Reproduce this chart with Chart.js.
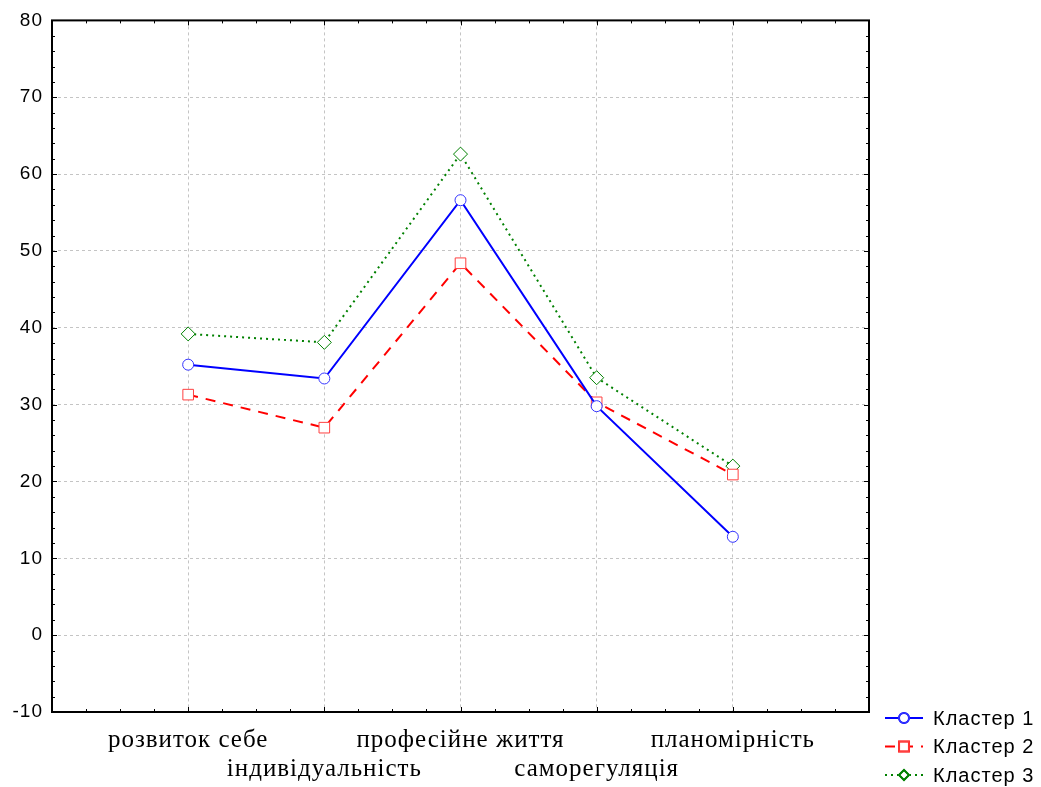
<!DOCTYPE html>
<html>
<head>
<meta charset="utf-8">
<script src="https://cdn.jsdelivr.net/npm/chart.js@4.4.1/dist/chart.umd.min.js"></script>
<style>
  html, body { margin: 0; padding: 0; background: #fff; }
  #wrap { width: 1041px; height: 787px; }
</style>
</head>
<body>
<div id="wrap"><canvas id="clusterChart"></canvas></div>
<script>
var categories = ['розвиток себе', 'індивідуальність', 'професійне життя', 'саморегуляція', 'планомірність'];
var cluster1 = [35.2, 33.4, 56.6, 29.8, 12.8];
var cluster2 = [31.3, 27.0, 48.4, 30.3, 20.9];
var cluster3 = [39.2, 38.1, 62.6, 33.5, 22.0];
var seriesNames = ['Кластер 1', 'Кластер 2', 'Кластер 3'];
var yTicks = [-10, 0, 10, 20, 30, 40, 50, 60, 70, 80];

function toPoints(arr) {
    return arr.map(function (v, i) { return { x: i + 1, y: v }; });
}

// трохи розріджений текст, як в оригіналі
var spacingPlugin = {
    id: 'spacing',
    beforeUpdate: function (chart) { chart.ctx.letterSpacing = '1px'; },
    beforeDraw: function (chart) { chart.ctx.letterSpacing = '1px'; }
};

// рамка + внутрішні риски
var framePlugin = {
    id: 'frame',
    afterDraw: function (chart) {
        var ctx = chart.ctx, a = chart.chartArea;
        var xs = chart.scales.x, ys = chart.scales.y;
        ctx.save();
        ctx.strokeStyle = '#000';
        ctx.lineWidth = 1;
        ctx.setLineDash([]);
        ctx.beginPath();
        for (var v = xs.min; v <= xs.max + 1e-9; v += 0.25) {
            var px = Math.round(xs.getPixelForValue(v)) + 0.5;
            var len = (Math.abs(v - Math.round(v)) < 1e-6) ? 5 : 3;
            ctx.moveTo(px, a.bottom); ctx.lineTo(px, a.bottom - len);
            ctx.moveTo(px, a.top); ctx.lineTo(px, a.top + len);
        }
        for (var w = ys.min; w <= ys.max + 1e-9; w += 2) {
            var py = Math.round(ys.getPixelForValue(w)) + 0.5;
            var l2 = (w % 10 === 0) ? 5 : 3;
            ctx.moveTo(a.left, py); ctx.lineTo(a.left + l2, py);
            ctx.moveTo(a.right, py); ctx.lineTo(a.right - l2, py);
        }
        ctx.stroke();
        ctx.lineWidth = 2;
        ctx.strokeRect(a.left, a.top, a.right - a.left, a.bottom - a.top);
        ctx.restore();
    }
};

// легенда знизу праворуч
var legendPlugin = {
    id: 'sideLegend',
    afterDraw: function (chart) {
        var ctx = chart.ctx;
        ctx.save();
        chart.data.datasets.forEach(function (ds, i) {
            var y = 718 + i * 28.5;
            ctx.strokeStyle = ds.borderColor;
            ctx.lineWidth = 2;
            ctx.setLineDash(ds.borderDash || []);
            ctx.beginPath();
            ctx.moveTo(885, y); ctx.lineTo(923, y);
            ctx.stroke();
            ctx.setLineDash([]);
            ctx.fillStyle = '#fff';
            ctx.fillRect(898, y - 6, 12, 12);
            Chart.helpers.drawPoint(ctx, {
                pointStyle: ds.pointStyle,
                radius: ds.pointStyle === 'rect' ? 7 : 5,
                borderWidth: 1.5,
                rotation: 0
            }, 904, y);
            ctx.strokeStyle = ds.pointBorderColor;
            ctx.lineWidth = 1.5;
            ctx.stroke();
            ctx.fillStyle = '#000';
            ctx.letterSpacing = '1px';
            ctx.font = '20px "Liberation Sans", Arial, sans-serif';
            ctx.textBaseline = 'middle';
            ctx.fillText(ds.label, 933, y + 1);
        });
        ctx.restore();
    }
};

var ctxEl = document.getElementById('clusterChart');
var clusterChart = new Chart(ctxEl, {
    type: 'line',
    data: {
        datasets: [{
            label: seriesNames[0],
            data: toPoints(cluster1),
            borderColor: '#0000ff',
            borderWidth: 2,
            pointStyle: 'circle',
            pointRadius: 5.5,
            pointBackgroundColor: '#fff',
            pointBorderColor: '#3333ff',
            pointBorderWidth: 1,
            tension: 0
        },
        {
            label: seriesNames[1],
            data: toPoints(cluster2),
            borderColor: '#ff0000',
            borderWidth: 2,
            borderDash: [10, 8],
            pointStyle: 'rect',
            pointRadius: 7.5,
            pointBackgroundColor: '#fff',
            pointBorderColor: '#ff4040',
            pointBorderWidth: 1,
            tension: 0
        },
        {
            label: seriesNames[2],
            data: toPoints(cluster3),
            borderColor: '#008000',
            borderWidth: 2,
            borderDash: [2, 4],
            pointStyle: 'rectRot',
            pointRadius: 7,
            pointBackgroundColor: '#fff',
            pointBorderColor: '#008000',
            pointBorderWidth: 1,
            tension: 0
        }
        ]
    },
    options: {
        responsive: true,
        maintainAspectRatio: false,
        animation: false,
        layout: {
            padding: { top: 20, right: 172, left: 0, bottom: 0 }
        },
        plugins: {
            legend: { display: false },
            tooltip: { enabled: false }
        },
        scales: {
            x: {
                type: 'linear',
                min: 0,
                max: categories.length + 1,
                afterBuildTicks: function (scale) {
                    var t = [];
                    for (var i = 0; i <= categories.length + 1; i++) t.push({ value: i });
                    scale.ticks = t;
                },
                afterFit: function (scale) { scale.height = 75; },
                ticks: {
                    autoSkip: false,
                    maxRotation: 0,
                    minRotation: 0,
                    padding: 14,
                    color: '#000',
                    font: { family: '"Liberation Serif", "Times New Roman", serif', size: 25, lineHeight: 1.15 },
                    callback: function (value) {
                        var name = categories[value - 1];
                        if (!name) return '';
                        return (value % 2 === 1) ? [name] : ['', name];
                    }
                },
                grid: {
                    drawTicks: false,
                    color: '#c4c4c4',
                    lineWidth: 1
                },
                border: { display: false, dash: [3, 3] }
            },
            y: {
                min: -10,
                max: 80,
                afterBuildTicks: function (scale) {
                    scale.ticks = yTicks.map(function (v) { return { value: v }; });
                },
                afterFit: function (scale) { scale.width = 52; },
                ticks: {
                    padding: 9,
                    color: '#000',
                    font: { family: '"Liberation Sans", Arial, sans-serif', size: 19 }
                },
                grid: {
                    drawTicks: false,
                    color: '#c4c4c4',
                    lineWidth: 1
                },
                border: { display: false, dash: [3, 3] }
            }
        }
    },
    plugins: [spacingPlugin, framePlugin, legendPlugin]
});
</script>
</body>
</html>
